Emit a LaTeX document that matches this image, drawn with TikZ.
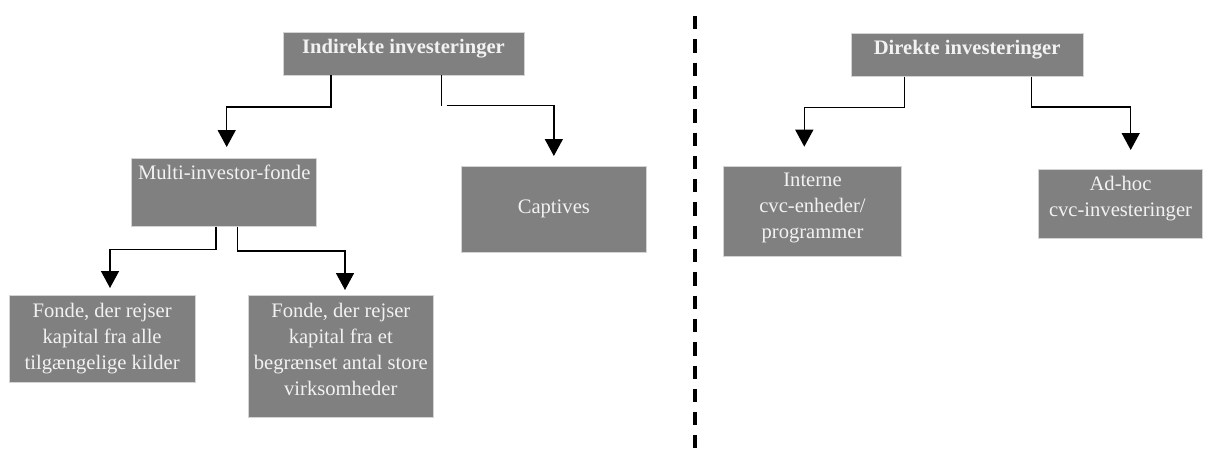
\documentclass[tikz,border=0pt]{standalone}
\usepackage{fontspec}
\setmainfont{Liberation Serif}
\usetikzlibrary{arrows.meta}
\definecolor{boxgray}{HTML}{808080}
\definecolor{boxtext}{HTML}{F2F2F2}
\definecolor{boxedge}{HTML}{D4D4D4}
\tikzset{
 box/.style={rectangle, fill=boxgray, draw=boxedge, line width=0.6pt, anchor=north west, inner sep=0pt, outer sep=0pt},
 txt/.style={text=boxtext, align=center, font=\fontsize{20.6}{26}\selectfont, inner sep=0pt},
 tb/.style={label={[txt, anchor=north, yshift=-7pt]north:{#1}}},
 tbb/.style={label={[txt, font=\fontsize{20.6}{26}\selectfont\bfseries, anchor=north, yshift=-7pt]north:{#1}}},
 ln/.style={line width=1.5pt, draw=black},
 arr/.style={ln, -{Triangle[width=18pt,length=17pt]}},
 divider/.style={line width=4pt, dash pattern=on 13.3pt off 10pt},
}
\begin{document}
\begin{tikzpicture}[x=1pt,y=-1pt]
\useasboundingbox (0,0) rectangle (1224,456);
% boxes
\node[box, minimum width=241pt, minimum height=42.7pt, tbb={Indirekte investeringer}] (ind) at (283,32.3) {};
\node[box, minimum width=185pt, minimum height=68.7pt, tb={Multi-investor-fonde}] (multi) at (131.7,158) {};
\node[box, minimum width=185.7pt, minimum height=85.3pt, txt] (captives) at (461,166.7) {Captives};
\node[box, minimum width=185.7pt, minimum height=86.6pt, tb={Fonde, der rejser\\kapital fra alle\\tilgængelige kilder}] (fonde1) at (9.3,295.7) {};
\node[box, minimum width=185pt, minimum height=121.6pt, tb={Fonde, der rejser\\kapital fra et\\begrænset antal store\\virksomheder}] (fonde2) at (248.3,295.7) {};
\node[box, minimum width=232.3pt, minimum height=43.4pt, tbb={Direkte investeringer}] (dir) at (851,33.3) {};
\node[box, minimum width=178.4pt, minimum height=90.7pt, tb={Interne\\cvc-enheder/\\programmer}] (interne) at (723.3,166) {};
\node[box, minimum width=164.4pt, minimum height=69pt, tb={Ad-hoc\\cvc-investeringer}] (adhoc) at (1038.3,169.3) {};
% connectors
\draw[arr] ([xshift=48pt]ind.south west) -- ++(0,32) -| ([xshift=95pt,yshift=11pt]multi.north west);
\draw[ln] ([xshift=158.7pt]ind.south west) -- ++(0,30.7);
\draw[arr] ([xshift=163.7pt,yshift=-30.7pt]ind.south west) -| ([yshift=10.7pt]captives.north);
\draw[arr] ([xshift=84.3pt]multi.south west) -- ++(0,22.6) -| ([xshift=100.7pt,yshift=7.7pt]fonde1.north west);
\draw[arr] ([xshift=106pt]multi.south west) -- ++(0,24.3) -| ([xshift=96.7pt,yshift=5.7pt]fonde2.north west);
\draw[arr] ([xshift=53.3pt]dir.south west) -- ++(0,30.6) -| ([xshift=81pt,yshift=19.3pt]interne.north west);
\draw[arr] ([xshift=180.7pt]dir.south west) -- ++(0,30.3) -| ([xshift=92.4pt,yshift=19.3pt]adhoc.north west);
% divider
\draw[divider] (695,16) -- (695,448);
\end{tikzpicture}
\end{document}
